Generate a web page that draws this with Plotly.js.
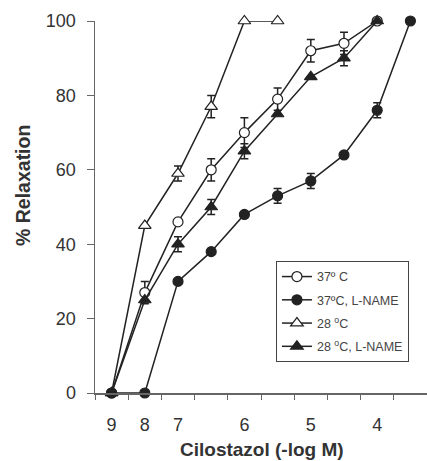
<!DOCTYPE html>
<html><head><meta charset="utf-8">
<script src="https://cdn.plot.ly/plotly-3.0.1.min.js"></script>
<style>html,body{margin:0;padding:0;background:#fff}</style>
</head><body>
<div id="chart" style="width:427px;height:461px"></div>
<script>
const doses = ['9','8','7','6.5','6','5.5','5','4.5','4','3.5'];
const tickLabels = ['9','8','7','6','5','4'];
const yTicks = [0, 20, 40, 60, 80, 100];
const seriesNames = ['37º C', '37ºC, L-NAME', '28 <sup>o</sup>C', '28 <sup>o</sup>C, L-NAME'];
const xTitle = 'Cilostazol (-log M)';
const yTitle = '% Relaxation';
const relax37 = [0, 27, 46, 60, 70, 79, 92, 94, 100];
const err37 = [0, 3, 0, 3, 4, 3, 3, 3, 0];
const relax37L = [0, 0, 30, 38, 48, 53, 57, 64, 76, 100];
const err37L = [0, 0, 0, 0, 0, 2, 2, 0, 2, 0];
const relax28 = [0, 45, 59, 77, 100, 100];
const err28 = [0, 0, 2, 3, 0, 0];
const relax28L = [0, 25, 40, 50, 65, 75, 85, 90, 100];
const err28L = [0, 0, 2, 2, 2, 0, 0, 2, 0];

const ink = '#222';
function mk(name, y, err, symbol, fill, xa, grp) {
  return {
    type: 'scatter', mode: 'lines+markers', name: name,
    x: doses.slice(0, y.length), y: y, xaxis: xa, yaxis: 'y',
    legendgroup: grp,
    cliponaxis: false,
    line: {color: ink, width: 1.5},
    marker: {symbol: symbol, size: symbol.indexOf('triangle') === 0 ? 11 : 10,
             color: fill, line: {color: ink, width: 1.2}},
    error_y: {type: 'data', array: err, symmetric: true, color: ink, thickness: 1.5, width: 4}
  };
}
const data = [
  mk(seriesNames[0], relax37, err37, 'circle', '#fff', 'x', 'a'),
  mk(seriesNames[1], relax37L, err37L, 'circle', ink, 'x', 'b'),
  mk(seriesNames[2], relax28, err28, 'triangle-up', '#fff', 'x', 'c'),
  mk(seriesNames[3], relax28L, err28L, 'triangle-up', ink, 'x2', 'd')
];
const fam = 'Liberation Sans, Arial, sans-serif';
const layout = {
  width: 427, height: 461,
  margin: {l: 95, r: 0, t: 21, b: 68},
  paper_bgcolor: '#fff', plot_bgcolor: '#fff',
  font: {family: fam, color: '#333'},
  showlegend: true,
  legend: {x: 0.545, y: 0.355, xanchor: 'left', yanchor: 'top',
           bordercolor: '#444', borderwidth: 1, bgcolor: '#fff',
           traceorder: 'grouped', tracegroupgap: 4,
           font: {family: fam, size: 12.5, color: '#444'}},
  xaxis: {type: 'category', categoryorder: 'array', categoryarray: doses,
          range: [-0.5, 9.5], autorange: false, fixedrange: true,
          tickson: 'boundaries', ticks: 'outside', ticklen: 5, tickwidth: 1, tickcolor: '#666',
          showticklabels: false, showline: true, linecolor: '#666', linewidth: 1.5,
          showgrid: false, zeroline: false},
  xaxis2: {type: 'category', categoryorder: 'array', categoryarray: doses,
           overlaying: 'x', anchor: 'y', side: 'bottom',
           range: [-0.5, 9.5], autorange: false, fixedrange: true,
           tickmode: 'array', tickvals: tickLabels, ticktext: tickLabels,
           ticks: 'outside', ticklen: 15, tickcolor: 'rgba(0,0,0,0)',
           tickfont: {size: 18, color: '#333', family: fam},
           showline: false, showgrid: false, zeroline: false},
  yaxis: {range: [0, 100], autorange: false, fixedrange: true,
          tickmode: 'array', tickvals: yTicks,
          ticks: 'outside', ticklen: 7, tickwidth: 1, tickcolor: '#666',
          ticklabelstandoff: 7,
          tickfont: {size: 18, color: '#333', family: fam},
          showline: true, linecolor: '#666', linewidth: 1.5,
          showgrid: false, zeroline: false},
  annotations: [
    {text: '<b>' + xTitle + '</b>', xref: 'paper', yref: 'paper', x: 0.503, y: -0.152,
     xanchor: 'center', yanchor: 'middle', showarrow: false,
     font: {size: 19, color: '#333', family: fam}},
    {text: '<b>' + yTitle + '</b>', xref: 'paper', yref: 'paper', x: -0.217, y: 0.559,
     xanchor: 'center', yanchor: 'middle', textangle: -90, showarrow: false,
     font: {size: 19.5, color: '#333', family: fam}}
  ]
};
Plotly.newPlot('chart', data, layout, {displayModeBar: false, staticPlot: true});
</script>
</body></html>
